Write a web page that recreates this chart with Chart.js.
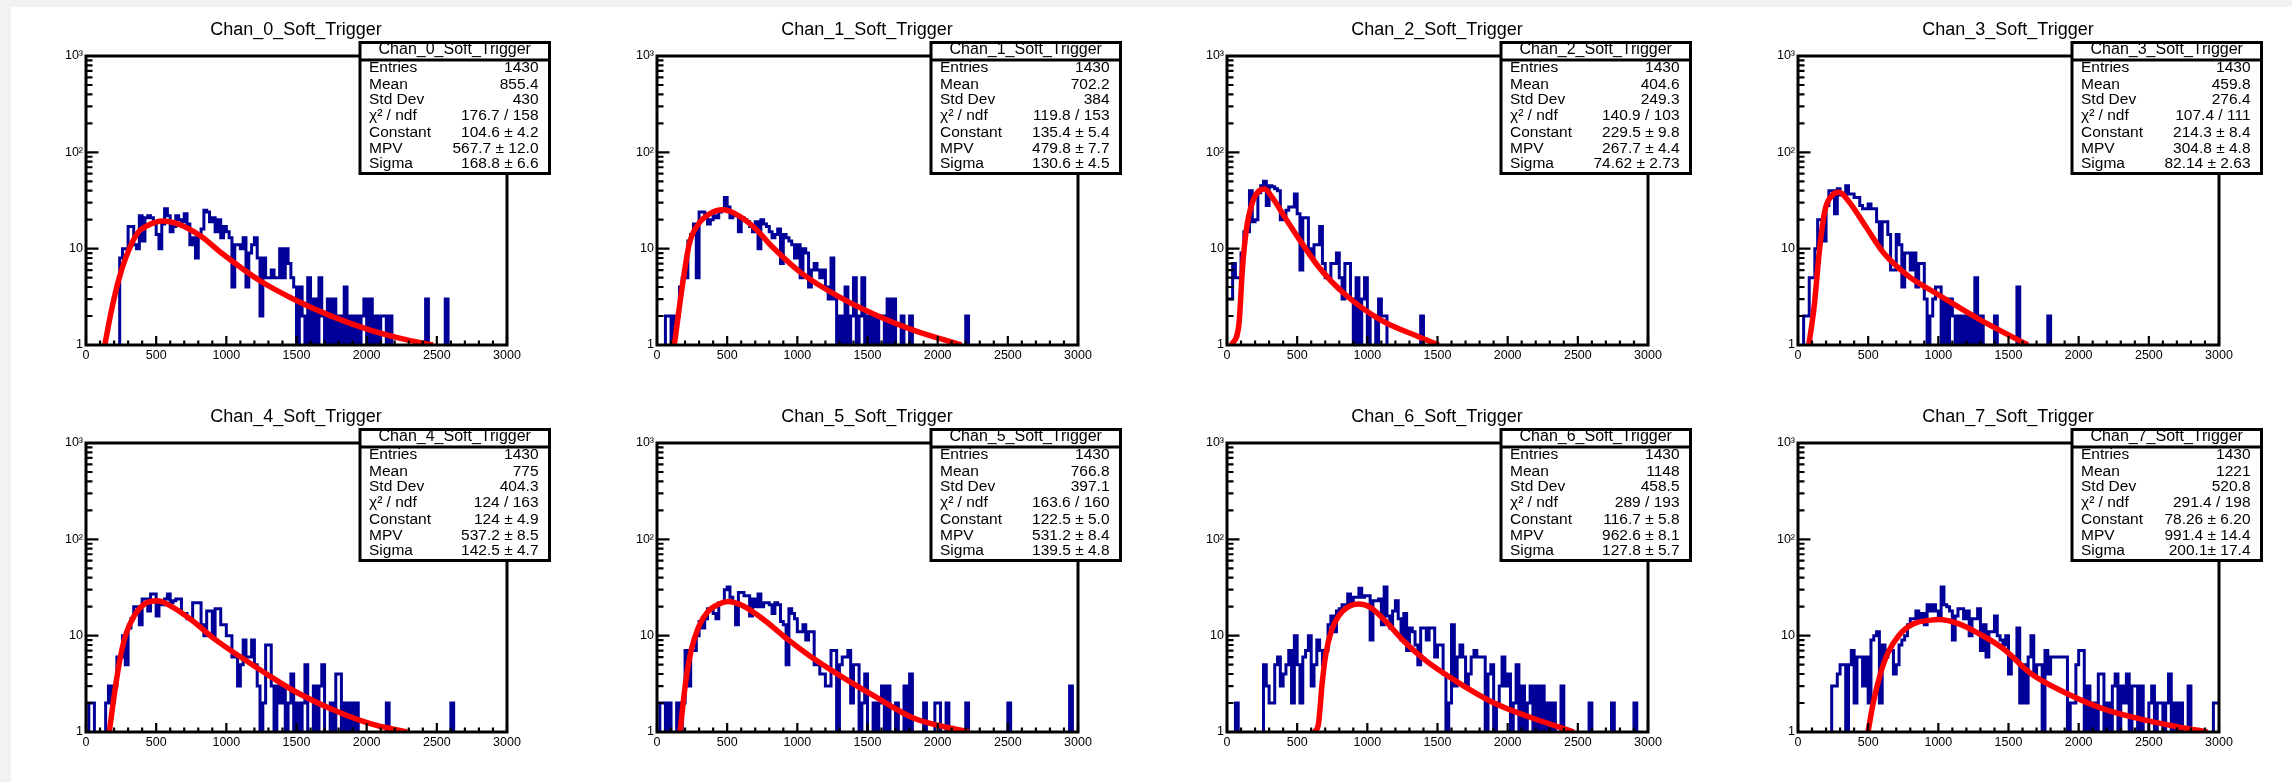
<!DOCTYPE html>
<html>
<head>
<meta charset="utf-8">
<script src="https://cdn.jsdelivr.net/npm/chart.js@4.4.1/dist/chart.umd.min.js"></script>
<style>
  html, body { margin: 0; padding: 0; overflow: hidden; }
  body { width: 2292px; height: 782px; background: #f2f2f2; position: relative; }
  #sheet { position: absolute; left: 11px; top: 7px; width: 2281px; height: 775px; background: #fff; }
  .pad { position: absolute; width: 570px; height: 387px; }
</style>
</head>
<body>
<div id="sheet"></div>
<script>
const FONT = '"Liberation Sans", Arial, Helvetica, sans-serif';

const channelNames = ['Chan_0_Soft_Trigger', 'Chan_1_Soft_Trigger', 'Chan_2_Soft_Trigger', 'Chan_3_Soft_Trigger',
  'Chan_4_Soft_Trigger', 'Chan_5_Soft_Trigger', 'Chan_6_Soft_Trigger', 'Chan_7_Soft_Trigger'];

// histogram binning (0..3000, 20 per bin)
const binWidth = 20;
const xTicks = [0, 500, 1000, 1500, 2000, 2500, 3000];
const yTicks = [1, 10, 100, 1000];
const yTickLabels = ['1', '10', '10²', '10³'];
const statLabels = ['Entries', 'Mean', 'Std Dev', 'χ² / ndf', 'Constant', 'MPV', 'Sigma'];

// counts per bin
const chan0Counts = [
  0,0,0,0,0,0,0,0,0,0, 0,0,8,10,10,17,17,11,10,22, 12,21,22,21,19,14,10,18,26,22,
  15,17,22,20,19,23,18,11,13,8, 14,16,25,24,19,21,15,20,13,17, 15,13,4,11,11,10,13,4,9,11,
  13,8,2,8,5,5,6,5,5,10, 5,10,7,5,4,1,4,2,0,5, 0,3,0,5,2,0,3,0,3,0,
  2,0,4,0,2,0,2,0,2,3, 0,3,0,2,0,2,2,0,2,0, 0,0,0,0,0,0,0,0,0,0,
  0,3,0,0,0,0,0,0,3,0, 0,0,0,0,0,0,0,0,0,0, 0,0,0,0,0,0,0,0,0,0];
const chan1Counts = [
  0,0,0,2,2,1,2,2,4,5, 5,12,14,18,5,24,24,23,18,20, 22,21,24,25,34,27,21,22,22,15,
  21,20,19,17,15,19,10,20,18,17, 15,13,14,16,7,14,13,12,11,8, 11,5,10,9,4,6,7,6,5,6,
  4,3,8,3,0,2,1,4,0,2, 5,0,2,5,0,2,0,2,0,2, 2,0,3,0,3,0,0,2,0,0,
  2,0,0,0,0,0,0,0,0,0, 0,0,0,0,0,0,0,0,0,0, 2,0,0,0,0,0,0,0,0,0,
  0,0,0,0,0,0,0,0,0,0, 0,0,0,0,0,0,0,0,0,0, 0,0,0,0,0,0,0,0,0,0];
const chan2Counts = [
  3,3,7,5,5,9,15,15,40,19, 20,38,45,50,28,45,44,42,40,20, 22,25,27,27,37,23,6,21,21,10,
  8,11,11,17,7,5,5,7,7,9, 5,3,7,7,3,0,5,0,3,5, 0,2,2,0,3,2,2,0,0,0,
  0,0,0,0,0,0,0,0,0,2, 0,0,0,0,0,0,0,0,0,0, 0,0,0,0,0,0,0,0,0,0,
  0,0,0,0,0,0,0,0,0,0, 0,0,0,0,0,0,0,0,0,0, 0,0,0,0,0,0,0,0,0,0,
  0,0,0,0,0,0,0,0,0,0, 0,0,0,0,0,0,0,0,0,0, 0,0,0,0,0,0,0,0,0,0];
const chan3Counts = [
  0,0,2,2,5,5,10,20,20,12, 28,40,40,23,42,36,36,45,37,37, 34,34,28,26,26,29,26,26,19,10,
  19,19,14,6,6,14,11,4,9,9, 6,9,4,7,7,3,0,2,3,4, 4,0,3,0,3,2,0,2,0,2,
  0,2,0,5,0,2,0,0,0,0, 2,0,0,0,0,0,0,0,4,0, 0,0,0,0,0,0,0,0,0,2,
  0,0,0,0,0,0,0,0,0,0, 0,0,0,0,0,0,0,0,0,0, 0,0,0,0,0,0,0,0,0,0,
  0,0,0,0,0,0,0,0,0,0, 0,0,0,0,0,0,0,0,0,0, 0,0,0,0,0,0,0,0,0,0];
const chan4Counts = [
  0,2,2,0,0,0,0,2,3,2, 3,6,6,10,5,12,15,20,20,13, 24,24,18,27,27,16,21,21,24,27,
  22,23,24,24,17,17,15,15,22,22, 22,13,10,18,18,10,19,19,13,13, 10,10,6,6,3,5,9,6,6,9,
  5,3,1,2,8,8,3,0,3,2, 3,0,2,4,0,2,0,2,5,0, 0,3,0,3,5,0,0,2,0,4,
  4,0,2,0,2,0,2,0,0,0, 0,0,0,0,0,0,0,2,0,0, 0,0,0,0,0,0,0,0,0,0,
  0,0,0,0,0,0,0,0,0,0, 2,0,0,0,0,0,0,0,0,0, 0,0,0,0,0,0,0,0,0,0];
const chan5Counts = [
  0,2,2,0,2,0,0,2,0,2, 7,3,7,7,10,14,12,15,19,19, 17,15,22,22,30,32,25,22,13,28,
  28,26,26,16,24,20,27,20,22,22, 21,17,22,21,14,13,5,19,17,15, 11,11,13,9,11,11,5,5,4,4,
  3,3,7,7,0,5,6,6,7,2, 5,5,0,2,4,0,0,2,0,2, 3,0,3,0,0,2,0,0,3,0,
  4,0,0,0,0,2,0,0,0,2, 2,0,0,2,0,0,0,0,0,0, 2,0,0,0,0,0,0,0,0,0,
  0,0,0,0,0,2,0,0,0,0, 0,0,0,0,0,0,0,0,0,0, 0,0,0,0,0,0,0,3,0,0];
const chan6Counts = [
  0,0,0,2,0,0,0,0,0,0, 0,0,0,5,3,2,2,5,6,3, 4,5,7,2,10,5,2,6,7,10,
  3,5,9,7,5,7,13,16,11,18, 19,21,21,27,22,25,25,31,25,26, 26,9,23,23,24,13,32,16,12,18,
  23,15,9,17,7,12,11,8,5,12, 12,9,12,12,6,8,8,4,0,2, 13,3,6,8,6,3,4,6,7,6,
  6,6,0,4,5,0,2,3,6,3, 4,0,2,5,0,3,0,2,3,0, 3,0,3,0,2,0,2,0,0,3,
  0,0,0,0,0,0,0,0,0,2, 0,0,0,0,0,0,0,2,0,0, 0,0,0,0,0,2,0,0,0,0];
const chan7Counts = [
  0,0,0,0,0,0,0,0,0,0, 0,0,3,3,4,5,5,0,5,7, 2,6,6,3,6,2,9,10,11,2,
  8,6,7,7,4,5,8,9,10,13, 15,15,18,15,17,13,21,18,21,18, 15,32,21,20,18,9,16,19,19,15,
  18,10,15,15,19,7,13,6,11,11, 16,10,9,8,10,4,6,6,12,2, 5,2,6,10,4,5,5,0,7,4,
  6,6,6,6,6,6,0,2,2,5, 7,7,0,3,1,2,0,4,4,1, 2,0,3,4,1,3,2,4,0,3,
  3,1,3,0,0,2,3,0,2,2, 0,2,4,0,2,1,2,0,0,3, 0,0,0,0,0,0,0,0,2,2];

// Landau fit curves
const chan0FitX = [134, 179, 232, 285, 364, 443, 548, 654, 812, 970, 1234, 1498, 1761, 2025, 2288, 2473];
const chan0FitY = [1, 2.2, 4.7, 8.2, 14.3, 17.5, 19.4, 18.1, 13.7, 8.9, 4.7, 2.9, 1.96, 1.43, 1.13, 1];
const chan1FitX = [124, 150, 190, 230, 296, 375, 467, 559, 691, 823, 1034, 1298, 1562, 1826, 2169];
const chan1FitY = [1, 1.96, 5.1, 11.2, 18.1, 23, 25.3, 23, 16.7, 10.4, 5.5, 3.16, 2.04, 1.43, 1];
const chan2FitX = [32, 84, 111, 137, 177, 230, 269, 322, 414, 520, 652, 836, 1100, 1364, 1509];
const chan2FitY = [1, 1.6, 6.5, 15.4, 29, 40, 41.6, 34, 21, 12.2, 6.5, 3.4, 1.8, 1.22, 1];
const chan3FitX = [77, 115, 154, 192, 243, 294, 358, 486, 614, 794, 947, 1101, 1305, 1638];
const chan3FitY = [1, 2.5, 10, 25, 35.7, 38.5, 31.5, 16.7, 8.9, 5.1, 3.7, 2.7, 1.8, 1];
const chan4FitX = [166, 206, 245, 285, 337, 417, 509, 601, 759, 917, 1102, 1287, 1497, 1761, 2025, 2288];
const chan4FitY = [1, 2.7, 6, 10.4, 15.5, 21.3, 23, 20.4, 14.3, 9.2, 6, 4, 2.6, 1.7, 1.22, 1];
const chan5FitX = [164, 203, 243, 296, 361, 441, 507, 612, 770, 929, 1087, 1298, 1562, 1826, 2222];
const chan5FitY = [1, 3.2, 7, 12.3, 17.7, 21.3, 22.6, 20.4, 14.3, 9.2, 6.2, 3.9, 2.3, 1.4, 1];
const chan6FitX = [625, 652, 678, 704, 744, 797, 863, 942, 1021, 1127, 1259, 1417, 1628, 1892, 2156, 2472];
const chan6FitY = [1, 1.22, 3.2, 6.4, 11.3, 16.1, 19.9, 21.3, 19.7, 14.3, 8.8, 5.5, 3.4, 2.04, 1.43, 1];
const chan7FitX = [499, 537, 589, 640, 717, 819, 947, 998, 1152, 1305, 1459, 1664, 1920, 2176, 2483, 2713, 2918];
const chan7FitY = [1, 2.04, 4.1, 6.6, 10, 13.2, 14.5, 14.7, 13.2, 10.2, 7.4, 4.0, 2.5, 1.74, 1.32, 1.13, 1];

// stats box values
const chan0Stats = ['1430', '855.4', '430', '176.7 / 158', '104.6 ± 4.2', '567.7 ± 12.0', '168.8 ± 6.6'];
const chan1Stats = ['1430', '702.2', '384', '119.8 / 153', '135.4 ± 5.4', '479.8 ± 7.7', '130.6 ± 4.5'];
const chan2Stats = ['1430', '404.6', '249.3', '140.9 / 103', '229.5 ± 9.8', '267.7 ± 4.4', '74.62 ± 2.73'];
const chan3Stats = ['1430', '459.8', '276.4', '107.4 / 111', '214.3 ± 8.4', '304.8 ± 4.8', '82.14 ± 2.63'];
const chan4Stats = ['1430', '775', '404.3', '124 / 163', '124 ± 4.9', '537.2 ± 8.5', '142.5 ± 4.7'];
const chan5Stats = ['1430', '766.8', '397.1', '163.6 / 160', '122.5 ± 5.0', '531.2 ± 8.4', '139.5 ± 4.8'];
const chan6Stats = ['1430', '1148', '458.5', '289 / 193', '116.7 ± 5.8', '962.6 ± 8.1', '127.8 ± 5.7'];
const chan7Stats = ['1430', '1221', '520.8', '291.4 / 198', '78.26 ± 6.20', '991.4 ± 14.4', '200.1± 17.4'];

const channels = [
  [chan0Counts, chan0FitX, chan0FitY, chan0Stats],
  [chan1Counts, chan1FitX, chan1FitY, chan1Stats],
  [chan2Counts, chan2FitX, chan2FitY, chan2Stats],
  [chan3Counts, chan3FitX, chan3FitY, chan3Stats],
  [chan4Counts, chan4FitX, chan4FitY, chan4Stats],
  [chan5Counts, chan5FitX, chan5FitY, chan5Stats],
  [chan6Counts, chan6FitX, chan6FitY, chan6Stats],
  [chan7Counts, chan7FitX, chan7FitY, chan7Stats]
];

// frame, ticks, title and stats box, drawn like a ROOT pad
const padPlugin = {
  id: 'rootPad',
  afterDatasetsDraw(chart) {
    const { ctx, chartArea: a, scales } = chart;
    const x = scales.x, y = scales.y;
    ctx.save();
    ctx.strokeStyle = '#000';
    ctx.lineWidth = 2.2;
    ctx.beginPath();
    for (let v = 0; v <= 3000; v += 100) {
      const px = x.getPixelForValue(v);
      const len = v % 500 === 0 ? 9 : 4.5;
      ctx.moveTo(px, a.bottom);
      ctx.lineTo(px, a.bottom - len);
    }
    for (let d = 1; d < 1000; d *= 10) {
      for (let m = 1; m < 10; m++) {
        const py = y.getPixelForValue(d * m);
        const len = m === 1 ? 12.5 : 6.5;
        ctx.moveTo(a.left, py);
        ctx.lineTo(a.left + len, py);
      }
    }
    ctx.stroke();
    ctx.lineWidth = 3;
    ctx.strokeRect(a.left, a.top, a.right - a.left, a.bottom - a.top);
    ctx.restore();
  },
  afterDraw(chart, args, opts) {
    const ctx = chart.ctx;
    ctx.save();
    ctx.fillStyle = '#000';
    ctx.textBaseline = 'middle';
    ctx.textAlign = 'center';
    ctx.font = '18px ' + FONT;
    ctx.fillText(opts.title, 285, 23);

    // stats box
    const L = 349, R = 538.5, T = 35.5, B = 166.5, H = 53;
    ctx.fillStyle = '#fff';
    ctx.fillRect(L, T, R - L, B - T);
    ctx.strokeStyle = '#000';
    ctx.lineWidth = 3;
    ctx.strokeRect(L, T, R - L, B - T);
    ctx.beginPath();
    ctx.moveTo(L, H);
    ctx.lineTo(R, H);
    ctx.stroke();
    ctx.fillStyle = '#000';
    ctx.font = '16px ' + FONT;
    ctx.fillText(opts.title, (L + R) / 2, 42.5);
    ctx.font = '15.5px ' + FONT;
    const rowY = [61, 77.5, 93, 109, 125.5, 142, 156.5];
    statLabels.forEach((lab, i) => {
      ctx.textAlign = 'left';
      ctx.fillText(lab, L + 9, rowY[i]);
      ctx.textAlign = 'right';
      ctx.fillText(opts.stats[i], R - 11, rowY[i]);
    });
    ctx.restore();
  }
};

const sheet = document.getElementById('sheet');
channels.forEach(([counts, fitX, fitY, stats], i) => {
  const pad = document.createElement('div');
  pad.className = 'pad';
  pad.style.left = Math.round((i % 4) * 570.7) + 'px';
  pad.style.top = (Math.floor(i / 4) * 387) + 'px';
  const cv = document.createElement('canvas');
  cv.width = 570;
  cv.height = 387;
  pad.appendChild(cv);
  sheet.appendChild(pad);

  // empty bins go below the log axis and get clipped, as in ROOT
  const histPoints = counts.map((c, k) => ({ x: k * binWidth, y: c > 0 ? c : 0.5 }));
  histPoints.push({ x: counts.length * binWidth, y: histPoints[histPoints.length - 1].y });
  const fitPoints = fitX.map((v, k) => ({ x: v, y: fitY[k] }));

  new Chart(cv.getContext('2d'), {
    type: 'line',
    data: {
      datasets: [
        {
          data: fitPoints,
          borderColor: '#ff0000',
          borderWidth: 5.5,
          pointRadius: 0,
          cubicInterpolationMode: 'monotone',
          borderCapStyle: 'butt'
        },
        {
          data: histPoints,
          borderColor: '#000099',
          borderWidth: 3,
          pointRadius: 0,
          stepped: true,
          borderJoinStyle: 'miter'
        }
      ]
    },
    plugins: [padPlugin],
    options: {
      responsive: false,
      animation: false,
      devicePixelRatio: 1,
      events: [],
      layout: { padding: { left: 0, right: 74, top: 49, bottom: 0 } },
      plugins: {
        legend: { display: false },
        tooltip: { enabled: false },
        rootPad: { title: channelNames[i], stats: stats }
      },
      scales: {
        x: {
          type: 'linear',
          min: 0,
          max: 3000,
          afterBuildTicks: s => { s.ticks = xTicks.map(v => ({ value: v })); },
          afterFit: s => { s.height = 49; },
          grid: { display: false, drawTicks: false },
          border: { display: false },
          ticks: {
            color: '#000', padding: 3, maxRotation: 0, autoSkip: false,
            font: { family: FONT, size: 12.5 },
            callback: (v, k) => String(xTicks[k])
          }
        },
        y: {
          type: 'logarithmic',
          min: 1,
          max: 1000,
          afterBuildTicks: s => { s.ticks = yTicks.map(v => ({ value: v })); },
          afterFit: s => { s.width = 75; },
          grid: { display: false, drawTicks: false },
          border: { display: false },
          ticks: {
            color: '#000', padding: 3, autoSkip: false,
            font: { family: FONT, size: 12.5 },
            callback: (v, k) => yTickLabels[k]
          }
        }
      }
    }
  });
});
</script>
</body>
</html>
